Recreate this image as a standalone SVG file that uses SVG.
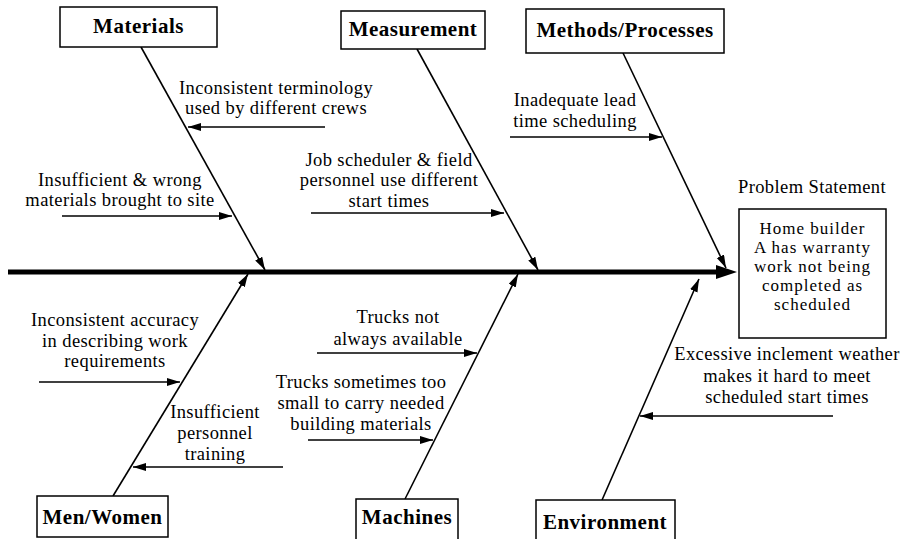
<svg xmlns="http://www.w3.org/2000/svg" width="904" height="539" viewBox="0 0 904 539">
  <style>
    .box { fill: #fff; stroke: #000; stroke-width: 1.5; }
    .cat { font-family: 'Liberation Serif', 'DejaVu Serif', serif; font-weight: bold; font-size: 21px; letter-spacing: 0.5px; text-anchor: middle; fill: #000; }
    .lbl { font-family: 'Liberation Serif', 'DejaVu Serif', serif; font-size: 18.5px; letter-spacing: 0.4px; text-anchor: middle; fill: #000; }
    .stmt { font-family: 'Liberation Serif', 'DejaVu Serif', serif; font-size: 17px; letter-spacing: 1px; text-anchor: middle; fill: #000; }
    .bone { stroke: #000; stroke-width: 1.6; fill: none; marker-end: url(#head); }
    .cause { stroke: #000; stroke-width: 1.6; fill: none; marker-end: url(#head); }
  </style>
  <defs>
    <marker id="head" markerUnits="userSpaceOnUse" markerWidth="14" markerHeight="10" refX="13" refY="4" orient="auto">
      <path d="M0,0 L13,4 L0,8 Z" fill="#000"/>
    </marker>
  </defs>
  <rect width="904" height="539" fill="#fff"/>

  <g id="connectors">
    <!-- spine -->
    <line x1="8" y1="272" x2="722" y2="272" stroke="#000" stroke-width="5"/>
    <polygon points="716,265 737,272 716,279" fill="#000"/>
    <!-- category bones -->
    <line class="bone" x1="141" y1="47" x2="265" y2="270"/>
    <line class="bone" x1="417" y1="49" x2="538" y2="270"/>
    <line class="bone" x1="623" y1="53" x2="726" y2="268"/>
    <line class="bone" x1="113" y1="496" x2="248" y2="274"/>
    <line class="bone" x1="405" y1="499" x2="518" y2="274"/>
    <line class="bone" x1="602" y1="500" x2="699" y2="279"/>
    <!-- cause arrows -->
    <line class="cause" x1="325" y1="127" x2="188" y2="127"/>
    <line class="cause" x1="62" y1="216" x2="232" y2="216"/>
    <line class="cause" x1="311" y1="213" x2="504" y2="213"/>
    <line class="cause" x1="510" y1="137" x2="662" y2="137"/>
    <line class="cause" x1="39" y1="382" x2="180" y2="382"/>
    <line class="cause" x1="283" y1="467" x2="133" y2="467"/>
    <line class="cause" x1="317" y1="353" x2="477" y2="353"/>
    <line class="cause" x1="308" y1="440" x2="433" y2="440"/>
    <line class="cause" x1="833" y1="416" x2="640" y2="416"/>
  </g>

  <g id="materials">
    <rect class="box" x="60" y="7" width="157" height="40"/>
    <text class="cat" x="138.5" y="33">Materials</text>
  </g>
  <g id="measurement">
    <rect class="box" x="341" y="11" width="144" height="38"/>
    <text class="cat" x="413" y="36">Measurement</text>
  </g>
  <g id="methods">
    <rect class="box" x="526" y="9" width="198" height="44"/>
    <text class="cat" x="625" y="37">Methods/Processes</text>
  </g>
  <g id="men-women">
    <rect class="box" x="37" y="496" width="131" height="41"/>
    <text class="cat" x="102.5" y="524">Men/Women</text>
  </g>
  <g id="machines">
    <rect class="box" x="356" y="499" width="102" height="42"/>
    <text class="cat" x="407" y="524">Machines</text>
  </g>
  <g id="environment">
    <rect class="box" x="536" y="500" width="139" height="42"/>
    <text class="cat" x="605" y="529">Environment</text>
  </g>
  <g id="problem">
    <text class="lbl" x="812" y="193">Problem Statement</text>
    <rect class="box" x="739" y="209" width="147" height="129"/>
    <text class="stmt" x="812.5" y="234">Home builder</text>
    <text class="stmt" x="812.5" y="253">A has warranty</text>
    <text class="stmt" x="812.5" y="272">work not being</text>
    <text class="stmt" x="812.5" y="291">completed as</text>
    <text class="stmt" x="812.5" y="310">scheduled</text>
  </g>

  <g id="cause-labels">
    <text class="lbl" x="276" y="94">Inconsistent terminology</text>
    <text class="lbl" x="276" y="114">used by different crews</text>
    <text class="lbl" x="120" y="186">Insufficient &amp; wrong</text>
    <text class="lbl" x="120" y="206">materials brought to site</text>
    <text class="lbl" x="389" y="166">Job scheduler &amp; field</text>
    <text class="lbl" x="389" y="186">personnel use different</text>
    <text class="lbl" x="389" y="207">start times</text>
    <text class="lbl" x="575" y="106">Inadequate lead</text>
    <text class="lbl" x="575" y="127">time scheduling</text>
    <text class="lbl" x="115" y="326">Inconsistent accuracy</text>
    <text class="lbl" x="115" y="347">in describing work</text>
    <text class="lbl" x="115" y="367">requirements</text>
    <text class="lbl" x="215" y="418">Insufficient</text>
    <text class="lbl" x="215" y="439">personnel</text>
    <text class="lbl" x="215" y="460">training</text>
    <text class="lbl" x="398" y="323">Trucks not</text>
    <text class="lbl" x="398" y="345">always available</text>
    <text class="lbl" x="361" y="388">Trucks sometimes too</text>
    <text class="lbl" x="361" y="409">small to carry needed</text>
    <text class="lbl" x="361" y="430">building  materials</text>
    <text class="lbl" x="787" y="360">Excessive inclement weather</text>
    <text class="lbl" x="787" y="382">makes it hard to meet</text>
    <text class="lbl" x="787" y="403">scheduled start times</text>
  </g>
</svg>
